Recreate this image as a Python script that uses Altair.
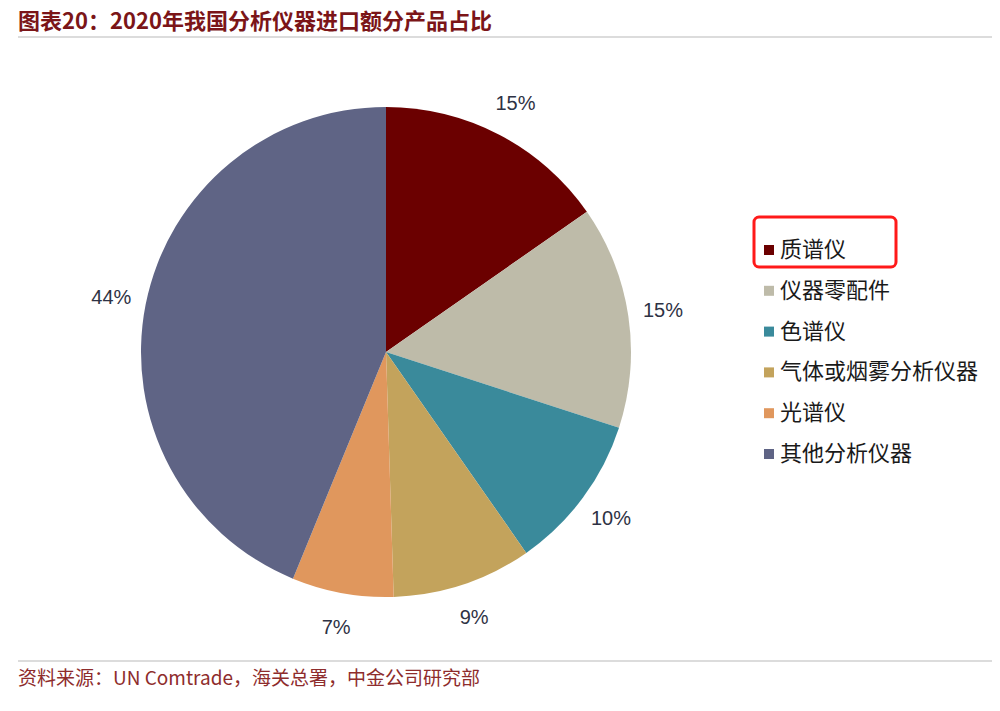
import altair as alt
import pandas as pd

categories = ["质谱仪", "仪器零配件", "色谱仪", "气体或烟雾分析仪器", "光谱仪", "其他分析仪器"]
values = [15.3, 14.7, 10.3, 9.2, 6.7, 43.8]
colors = ["#6B0000", "#BEBBA9", "#3A8A9B", "#C3A35C", "#E0975D", "#5F6485"]
title_text = "图表20：2020年我国分析仪器进口额分产品占比"
source_text = "资料来源：UN Comtrade，海关总署，中金公司研究部"

df = pd.DataFrame({
    "cat": categories,
    "value": values,
    "order": list(range(len(categories))),
    "label": [f"{round(v):d}%" for v in values],
})

CX, CY = 378, 344
CJK = "Noto Sans CJK SC"

color_enc = alt.Color(
    "cat:N",
    scale=alt.Scale(domain=categories, range=colors),
    legend=alt.Legend(
        title=None, orient="none", legendX=750, legendY=231,
        symbolType="square", symbolSize=100, symbolStrokeWidth=0,
        labelFontSize=22, labelFont=CJK, labelColor="#1a1a1a",
        labelOffset=0, rowPadding=18.8, padding=0, labelLimit=400,
    ),
)

arcs = alt.Chart(df).mark_arc(radius=245).encode(
    theta=alt.Theta("value:Q", stack=True),
    color=color_enc,
    order=alt.Order("order:Q"),
    x=alt.value(CX), y=alt.value(CY),
)

labels = alt.Chart(df).mark_text(
    radius=280, fontSize=20, font="Liberation Sans", color="#2E3244",
    align="center", baseline="middle",
).encode(
    theta=alt.Theta("value:Q", stack=True),
    order=alt.Order("order:Q"),
    text="label:N",
    x=alt.value(CX), y=alt.value(CY),
)

title = alt.Chart(pd.DataFrame({"t": [title_text]})).mark_text(
    align="left", baseline="middle", fontSize=22, fontWeight="bold",
    font=CJK, color="#7B1518",
).encode(text="t:N", x=alt.value(10), y=alt.value(14))

source = alt.Chart(pd.DataFrame({"t": [source_text]})).mark_text(
    align="left", baseline="middle", fontSize=19, font=CJK, color="#8E2C2C",
).encode(text="t:N", x=alt.value(10), y=alt.value(671))

one = pd.DataFrame({"a": [0]})
top_line = alt.Chart(one).mark_rule(color="#DCDCDC", strokeWidth=2).encode(
    x=alt.value(10), x2=alt.value(984), y=alt.value(29))
bottom_line = alt.Chart(one).mark_rule(color="#DCDCDC", strokeWidth=2).encode(
    x=alt.value(10), x2=alt.value(984), y=alt.value(653))

highlight = alt.Chart(one).mark_rect(
    filled=False, stroke="#FF1A1A", strokeWidth=3, cornerRadius=5,
).encode(x=alt.value(746), x2=alt.value(888), y=alt.value(209), y2=alt.value(259))

chart = alt.layer(
    arcs, labels, title, source, top_line, bottom_line, highlight
).properties(
    width=984, height=695, padding=0,
    autosize=alt.AutoSizeParams(type="none"),
).configure(background="white").configure_view(stroke=None)

chart.save("out.html", embed_options={"renderer": "svg", "actions": False})
